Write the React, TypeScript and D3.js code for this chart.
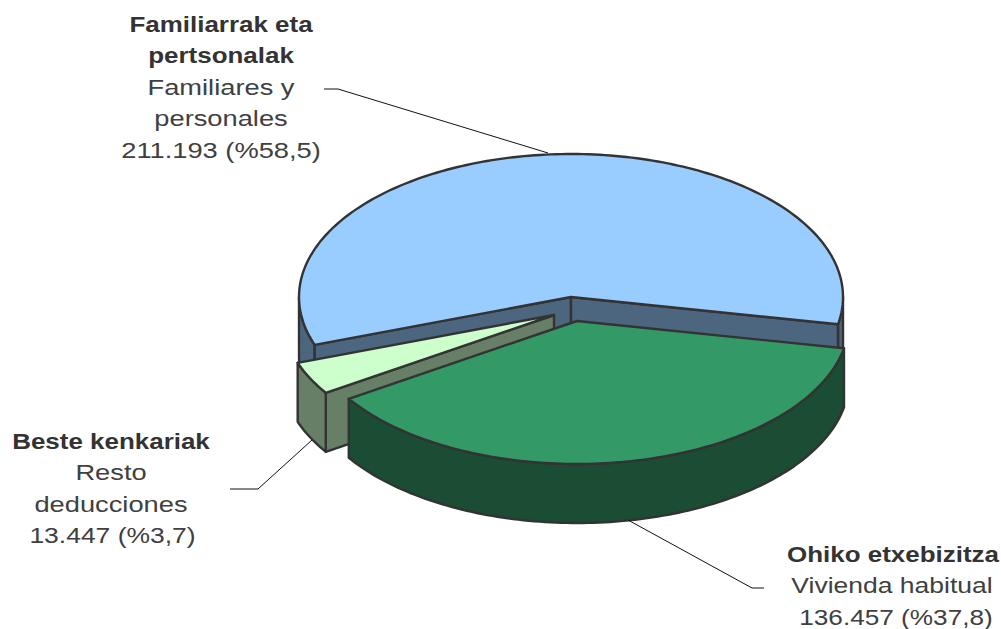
import React from "react";
import * as d3 from "d3";

const sliceNames = ["Ohiko etxebizitza", "Beste kenkariak", "Familiarrak eta pertsonalak"];
const sliceValues = [136457, 13447, 211193];
const topColors = ["#339966", "#CCFFCC", "#99CCFF"];
const sideColors = ["#1A4D33", "#667F66", "#4D6680"];
const sliceCentres: [number, number][] = [[577, 321], [554, 315], [571, 297]];

const labelBlocks = [
  { x: 221, y: 32, lines: [["Familiarrak eta", 1], ["pertsonalak", 1], ["Familiares y", 0], ["personales", 0], ["211.193 (%58,5)", 0]] },
  { x: 111, y: 449, lines: [["Beste kenkariak", 1], ["Resto", 0], ["deducciones", 0], ["13.447 (%3,7)", 0]] },
  { x: 893, y: 562, lines: [["Ohiko etxebizitza", 1], ["Vivienda habitual", 0], ["136.457 (%37,8)", 0]] },
];
const leaderLines: [number, number][][] = [
  [[324, 89], [338, 89], [548, 153]],
  [[230, 489], [258, 489], [312, 440]],
  [[628, 520], [752, 588], [764, 588]],
];

const RX = 272;
const RY = 143;
const DEPTH = 59;
const START = (11 * Math.PI) / 180;
const STROKE = "#333333";
const BOLD_STRETCH = 1.18;
const REGULAR_STRETCH = 1.24;
const lineTweaks: Record<string, { s: number; dx: number }> = {
  "Vivienda habitual": { s: 1.205, dx: -1 },
  "136.457 (%37,8)": { s: 1.19, dx: 3 },
  "13.447 (%3,7)": { s: 1.204, dx: 1.5 },
};

const pie = d3.pie<number>().sort(null).startAngle(START).endAngle(START + 2 * Math.PI);
const arcs = pie(sliceValues);
const line = d3.line<[number, number]>();

function pt(c: [number, number], t: number, dy = 0): [number, number] {
  return [c[0] + RX * Math.cos(t), c[1] + RY * Math.sin(t) + dy];
}
function arcPts(c: [number, number], a: number, b: number, dy = 0): [number, number][] {
  const n = Math.max(2, Math.ceil(Math.abs(b - a) / 0.02));
  return d3.range(n + 1).map((i) => pt(c, a + ((b - a) * i) / n, dy));
}
function topPath(c: [number, number], a: number, b: number) {
  return line([c, ...arcPts(c, a, b)]) + "Z";
}
function wallPath(c: [number, number], a: number, b: number) {
  return line([...arcPts(c, a, b), ...arcPts(c, b, a, DEPTH)]) + "Z";
}
function radialPath(c: [number, number], a: number) {
  const e = pt(c, a);
  return line([c, e, [e[0], e[1] + DEPTH], [c[0], c[1] + DEPTH]]) + "Z";
}

export default function App() {
  const [green, light, blue] = arcs;
  const shape = { stroke: STROKE, strokeWidth: 2.4, strokeLinejoin: "round" as const };
  const blueC = sliceCentres[2];
  const lightC = sliceCentres[1];
  const greenC = sliceCentres[0];
  return (
    <svg width={1001} height={629} style={{ position: "absolute", left: 0, top: 0 }}>
      <g>
        {/* blue slice */}
        <path d={wallPath(blueC, blue.startAngle, Math.PI)} fill={sideColors[2]} {...shape} />
        <path d={wallPath(blueC, 2 * Math.PI, blue.endAngle)} fill={sideColors[2]} {...shape} />
        <path d={radialPath(blueC, blue.startAngle)} fill={sideColors[2]} {...shape} />
        <path d={radialPath(blueC, blue.endAngle)} fill={sideColors[2]} {...shape} />
        <path d={topPath(blueC, blue.startAngle, blue.endAngle)} fill={topColors[2]} {...shape} />
        {/* light slice */}
        <path d={radialPath(lightC, light.startAngle)} fill={sideColors[1]} {...shape} />
        <path d={wallPath(lightC, light.startAngle, light.endAngle)} fill={sideColors[1]} {...shape} />
        <path d={topPath(lightC, light.startAngle, light.endAngle)} fill={topColors[1]} {...shape} />
        {/* green slice */}
        <path d={wallPath(greenC, green.startAngle, green.endAngle)} fill={sideColors[0]} {...shape} />
        <path d={topPath(greenC, green.startAngle, green.endAngle)} fill={topColors[0]} {...shape} />
      </g>
      {leaderLines.map((l, i) => (
        <path key={i} d={line(l) ?? ""} fill="none" stroke="#111111" strokeWidth={1} />
      ))}
      <g fontFamily="'Liberation Sans', Arial, sans-serif" fontSize={22} textAnchor="middle">
        {labelBlocks.map((b, i) => (
          <g key={i}>
            {b.lines.map(([txt, bold], j) => {
              const tweak = lineTweaks[txt as string];
              const s = tweak ? tweak.s : bold ? BOLD_STRETCH : REGULAR_STRETCH;
              const dx = tweak ? tweak.dx : 0;
              return (
                <text
                  key={j}
                  transform={`translate(${b.x + dx},${b.y + j * 31.4}) scale(${s},1)`}
                  fontWeight={bold ? 700 : 400}
                  fill={bold ? "#333333" : "#404040"}
                >
                  {txt}
                </text>
              );
            })}
          </g>
        ))}
      </g>
    </svg>
  );
}
